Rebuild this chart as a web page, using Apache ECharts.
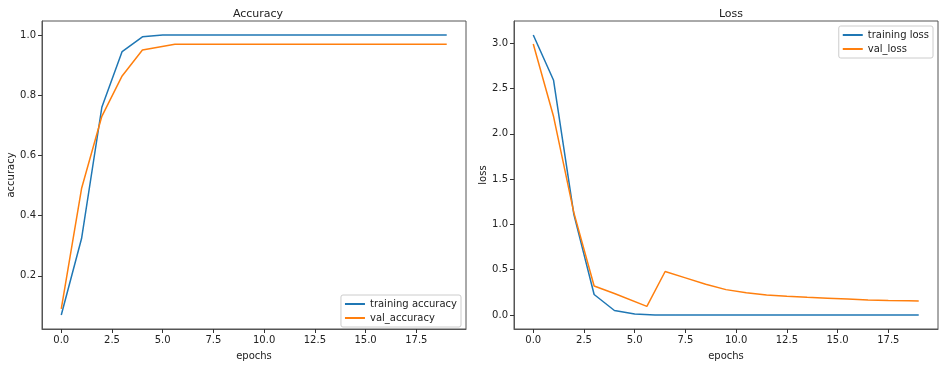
<!DOCTYPE html>
<html lang="en">
  <head>
    <meta charset="UTF-8" />
    <script src="https://cdn.jsdelivr.net/npm/echarts@6/dist/echarts.min.js"></script>
    <title>Accuracy / Loss</title>
    <style>
      html, body { margin: 0; padding: 0; background: #fff; }
      #app { width: 945px; height: 366px; }
    </style>
  </head>
  <body>
    <div id="app"></div>
    <script>
      // training history
      const epochs = [0, 1, 2, 3, 4, 5, 6, 7, 8, 9, 10, 11, 12, 13, 14, 15, 16, 17, 18, 19];
      const trainAcc = [0.07, 0.324, 0.76, 0.945, 0.994, 1.0, 1.0, 1.0, 1.0, 1.0,
                        1.0, 1.0, 1.0, 1.0, 1.0, 1.0, 1.0, 1.0, 1.0, 1.0];
      const trainLoss = [3.09, 2.59, 1.11, 0.226, 0.05, 0.012, 0.001, 0, 0, 0,
                         0, 0, 0, 0, 0, 0, 0, 0, 0, 0];
      // val points sit a bit off the integer epochs in the picture
      const valEpochs = [0, 1, 2, 3, 4, 5.6, 6.5, 7.5, 8.5, 9.5,
                         10.5, 11.5, 12.5, 13.5, 14.5, 15.5, 16.5, 17.5, 18.5, 19];
      const valAcc = [0.09, 0.49, 0.73, 0.864, 0.95, 0.969, 0.969, 0.969, 0.969, 0.969,
                      0.969, 0.969, 0.969, 0.969, 0.969, 0.969, 0.969, 0.969, 0.969, 0.969];
      const valLoss = [2.99, 2.19, 1.13, 0.32, 0.238, 0.095, 0.48, 0.41, 0.34, 0.28,
                       0.245, 0.222, 0.207, 0.196, 0.186, 0.176, 0.166, 0.159, 0.157, 0.155];
      const xTicks = [0, 2.5, 5, 7.5, 10, 12.5, 15, 17.5];
      const accTicks = [0.2, 0.4, 0.6, 0.8, 1.0];
      const lossTicks = [0, 0.5, 1.0, 1.5, 2.0, 2.5, 3.0];

      const font = "DejaVu Sans";
      const blue = "#1f77b4";
      const orange = "#ff7f0e";

      const pairs = (xs, ys) => xs.map((x, i) => [x, ys[i]]);

      function xAxis(gridIndex) {
        return {
          type: "value",
          gridIndex: gridIndex,
          min: -0.95,
          max: 19.95,
          name: "epochs",
          nameLocation: "middle",
          nameGap: 22,
          nameTextStyle: { color: "#222", fontFamily: font, fontSize: 10 },
          splitLine: { show: false },
          axisLine: { show: true, onZero: false, lineStyle: { color: "#555" } },
          axisTick: { show: true, length: 4, customValues: xTicks, lineStyle: { color: "#333" } },
          axisLabel: {
            customValues: xTicks,
            margin: 6,
            color: "#222",
            fontFamily: font,
            fontSize: 10,
            formatter: (v) => v.toFixed(1),
          },
        };
      }

      function yAxis(gridIndex, name, min, max, ticks, gap) {
        return {
          type: "value",
          gridIndex: gridIndex,
          min: min,
          max: max,
          name: name,
          nameLocation: "middle",
          nameRotate: 90,
          nameGap: gap,
          nameTextStyle: { color: "#222", fontFamily: font, fontSize: 10 },
          splitLine: { show: false },
          axisLine: { show: true, onZero: false, lineStyle: { color: "#555" } },
          axisTick: { show: true, length: 4, customValues: ticks, lineStyle: { color: "#333" } },
          axisLabel: {
            customValues: ticks,
            margin: 6,
            color: "#222",
            fontFamily: font,
            fontSize: 10,
            formatter: (v) => v.toFixed(1),
          },
        };
      }

      function legend(names, pos) {
        return Object.assign({
          data: names,
          orient: "vertical",
          icon: "rect",
          itemWidth: 20,
          itemHeight: 2,
          itemGap: 4,
          padding: [4, 4, 4, 4],
          backgroundColor: "#fff",
          borderColor: "#ccc",
          borderWidth: 1,
          borderRadius: 2,
          textStyle: { color: "#222", fontFamily: font, fontSize: 10 },
        }, pos);
      }

      function line(name, data, color, xi) {
        return {
          name: name,
          type: "line",
          xAxisIndex: xi,
          yAxisIndex: xi,
          data: data,
          showSymbol: false,
          symbol: "none",
          lineStyle: { color: color, width: 1.5 },
          itemStyle: { color: color },
        };
      }

      const chart = echarts.init(document.getElementById("app"));
      chart.setOption({
        animation: false,
        backgroundColor: "#fff",
        title: [
          { text: "Accuracy", left: 253, top: 4, textAlign: "center",
            textStyle: { fontFamily: font, fontSize: 11, fontWeight: "normal", color: "#222" } },
          { text: "Loss", left: 726, top: 4, textAlign: "center",
            textStyle: { fontFamily: font, fontSize: 11, fontWeight: "normal", color: "#222" } },
        ],
        grid: [
          { left: 42, top: 21, width: 424, height: 310, show: true,
            borderColor: "#555", borderWidth: 1, backgroundColor: "transparent" },
          { left: 514, top: 21, width: 424, height: 310, show: true,
            borderColor: "#555", borderWidth: 1, backgroundColor: "transparent" },
        ],
        legend: [
          legend(["training accuracy", "val_accuracy"], { right: 484, top: 295 }),
          legend(["training loss", "val_loss"], { right: 12, top: 26 }),
        ],
        xAxis: [xAxis(0), xAxis(1)],
        yAxis: [
          yAxis(0, "accuracy", 0.0235, 1.0465, accTicks, 26),
          yAxis(1, "loss", -0.1545, 3.2445, lossTicks, 26),
        ],
        series: [
          line("training accuracy", pairs(epochs, trainAcc), blue, 0),
          line("val_accuracy", pairs(valEpochs, valAcc), orange, 0),
          line("training loss", pairs(epochs, trainLoss), blue, 1),
          line("val_loss", pairs(valEpochs, valLoss), orange, 1),
        ],
      });
    </script>
  </body>
</html>
